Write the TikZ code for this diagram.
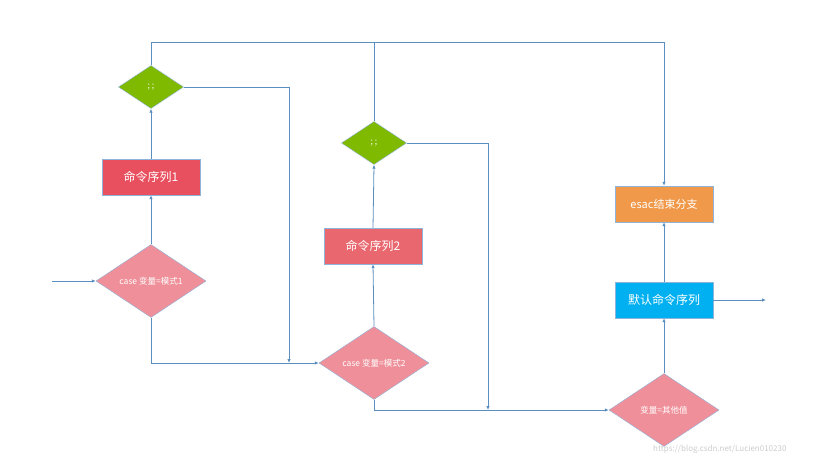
\documentclass[tikz,border=0pt]{standalone}
\usepackage{fontspec}
\setmainfont{Noto Sans CJK SC}
\usetikzlibrary{shapes.geometric,arrows.meta}
\definecolor{ln}{HTML}{5B8FC0}
\definecolor{gr}{HTML}{7FBA00}
\definecolor{pk}{HTML}{EF8F99}
\definecolor{rd1}{HTML}{E8505F}
\definecolor{rd2}{HTML}{E96870}
\definecolor{og}{HTML}{F0994A}
\definecolor{bl}{HTML}{00B0F0}
\definecolor{bd}{HTML}{8FB4DA}
\tikzset{
 x=1pt,y=-1pt,
 dia/.style={diamond,draw=bd,inner sep=0pt,minimum width=#1},
 gdia/.style={dia=65pt,fill=gr,minimum height=43pt},
 pdia/.style={dia=110pt,fill=pk,minimum height=73pt},
 box/.style={draw=bd,minimum width=98pt,minimum height=36pt,text=white,font=\fontsize{12}{14}\selectfont},
 lab/.style={text=white,font=\fontsize{8.5}{10}\selectfont},
 conn/.style={draw=ln,line width=0.8pt,-{Latex[length=4pt,width=3.5pt]}},
 pl/.style={draw=ln,line width=0.8pt}
}
\begin{document}
\begin{tikzpicture}
\useasboundingbox (0,0) rectangle (840,457);
\node[gdia,label={[lab]center:; ;}] (g1) at (151,87) {};
\node[box,fill=rd1] (c1) at (151,177) {命令序列1};
\node[pdia,label={[lab]center:case 变量=模式1}] (d1) at (151,281) {};
\node[gdia,label={[lab]center:; ;}] (g2) at (374,143) {};
\node[box,fill=rd2] (c2) at (373,246) {命令序列2};
\node[pdia,label={[lab]center:case 变量=模式2}] (d2) at (374,363) {};
\node[box,fill=og] (es) at (664,204) {\fontsize{11}{13}\selectfont esac结束分支};
\node[box,fill=bl] (df) at (664,300) {默认命令序列};
\node[pdia,label={[lab]center:变量=其他值}] (d3) at (664,410) {};
\coordinate (in) at (52,281);
\coordinate (out) at (766,300);
\node[text=gray!40,font=\fontsize{8}{10}\selectfont,anchor=east] (wm) at (790,449) {https://blog.csdn.net/Lucien010230};

\draw[conn] (in) -- (d1.west);
\draw[conn] (d1.north) -- (c1.south);
\draw[conn] (c1.north) -- (g1.south);
\draw[conn] (g1.north) |- (664,42) -- (es.north);
\draw[pl] (g2.north) -- (374,42);
\draw[conn] (g1.east) -| (289,363);
\draw[conn] (d1.south) |- (d2.west);
\draw[conn] (d2.north) -- (c2.south);
\draw[conn] (c2.north) -- (g2.south);
\draw[conn] (g2.east) -| (488,410);
\draw[conn] (d2.south) |- (d3.west);
\draw[conn] (d3.north) -- (df.south);
\draw[conn] (df.north) -- (es.south);
\draw[conn] (df.east) -- (out);
\end{tikzpicture}
\end{document}
